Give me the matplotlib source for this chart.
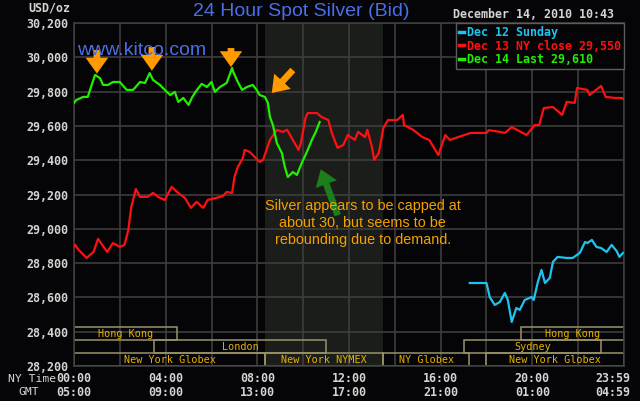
import matplotlib
matplotlib.use("Agg")
import matplotlib.pyplot as plt
from matplotlib.patches import Rectangle

# Dec 14 (green), hours NY time / USD per oz
green_hours = [0, 0.1, 0.4, 0.6, 0.8, 0.92, 1.13, 1.27, 1.48, 1.7, 2.0, 2.3, 2.58, 2.88, 3.1,
               3.3, 3.45, 3.75, 4.05, 4.2, 4.4, 4.55, 4.77, 5.0, 5.14, 5.3, 5.57, 5.8, 6.0, 6.15,
               6.37, 6.66, 6.9, 6.95, 7.15, 7.33, 7.55, 7.8, 7.97, 8.1, 8.33, 8.46, 8.55, 8.68, 8.85,
               9.07, 9.2, 9.33, 9.55, 9.73, 9.94, 10.16, 10.38, 10.55, 10.72]
green_vals = [29734, 29751, 29769, 29769, 29850, 29897, 29879, 29839, 29839, 29856, 29856, 29810, 29810, 29856, 29850,
              29908, 29868, 29839, 29798, 29780, 29798, 29740, 29763, 29722, 29763, 29798, 29845, 29827, 29856, 29798,
              29827, 29850, 29938, 29914, 29856, 29810, 29827, 29839, 29810, 29780, 29769, 29734, 29652, 29605, 29500,
              29442, 29361, 29302, 29331, 29314, 29384, 29448, 29518, 29565, 29623]

# Dec 13 (red)
red_hours = [0, 0.05, 0.2, 0.55, 0.85, 1.05, 1.45, 1.7, 2.0, 2.2, 2.37, 2.5, 2.7, 2.88, 3.2,
             3.45, 3.67, 3.96, 4.26, 4.55, 4.84, 5.1, 5.35, 5.64, 5.83, 6.2, 6.5, 6.66, 6.9, 7.0,
             7.15, 7.37, 7.45, 7.67, 7.8, 8.1, 8.25, 8.4, 8.55, 8.85, 9.1, 9.3, 9.55, 9.8, 9.9,
             10.1, 10.2, 10.6, 10.8, 11.1, 11.25, 11.5, 11.75, 11.95, 12.25, 12.4, 12.7, 12.8, 13.0, 13.1,
             13.3, 13.5, 13.7, 14.1, 14.35, 14.4, 14.8, 15.2, 15.5, 15.9, 16.2, 16.4, 17.3, 18.0, 18.1,
             18.6, 18.8, 19.1, 19.75, 20.1, 20.3, 20.5, 20.9, 21.3, 21.5, 21.85, 21.95, 22.4, 22.5, 23.0,
             23.2, 23.6, 23.9, 24.0]
red_vals = [28894, 28906, 28877, 28830, 28865, 28941, 28865, 28917, 28894, 28906, 28993, 29127, 29232, 29186, 29186,
            29209, 29186, 29168, 29244, 29209, 29180, 29122, 29157, 29122, 29168, 29180, 29191, 29215, 29209, 29302,
            29361, 29413, 29460, 29448, 29430, 29390, 29401, 29460, 29518, 29577, 29565, 29577, 29518, 29460, 29500,
            29646, 29675, 29675, 29652, 29634, 29559, 29472, 29489, 29547, 29518, 29565, 29535, 29577, 29478, 29401,
            29442, 29588, 29634, 29634, 29664, 29605, 29577, 29535, 29518, 29430, 29547, 29518, 29559, 29559, 29575,
            29565, 29559, 29593, 29547, 29605, 29605, 29704, 29710, 29664, 29740, 29734, 29821, 29810, 29780, 29833,
            29769, 29763, 29763, 29755]

# Dec 12 (cyan)
cyan_hours = [17.27, 18.0, 18.14, 18.36, 18.58, 18.8, 18.93, 19.1, 19.3, 19.45, 19.67, 19.97, 20.06, 20.24, 20.4,
              20.55, 20.76, 20.9, 21.1, 21.5, 21.76, 22.07, 22.3, 22.4, 22.6, 22.8, 23.0, 23.24, 23.46, 23.68,
              23.8, 23.95]
cyan_vals = [28684, 28684, 28602, 28556, 28573, 28626, 28585, 28457, 28538, 28527, 28585, 28602, 28585, 28690, 28760,
             28684, 28713, 28807, 28836, 28830, 28830, 28859, 28923, 28917, 28935, 28894, 28888, 28865, 28906, 28870,
             28836, 28859]

legend_labels = ["Dec 12 Sunday", "Dec 13 NY close 29,550", "Dec 14 Last 29,610"]

# trading sessions: name, start hour, end hour, row (0 = bottom)
session_names = ["Hong Kong", "Hong Kong", "London", "Sydney",
                 "New York Globex", "New York NYMEX", "NY Globex", "New York Globex"]
session_start = [0, 19.5, 3.5, 17.0, 0, 8.33, 13.5, 18.0]
session_end = [4.5, 24, 11.0, 23.0, 8.33, 13.5, 17.25, 24]
session_row = [2, 2, 1, 1, 0, 0, 0, 0]

ny_ticks = ["00:00", "04:00", "08:00", "12:00", "16:00", "20:00", "23:59"]
gmt_ticks = ["05:00", "09:00", "13:00", "17:00", "21:00", "01:00", "04:59"]
tick_hours = [0, 4, 8, 12, 16, 20, 24]

nymex_open, nymex_close = 8.33, 13.5

BG = "#050507"
GRID = "#3d3d3d"
LABEL = "#d4d4d4"
BLUE = "#4a6ee6"
ORANGE = "#ff9a00"
GOLD = "#e8b000"
MONO = "DejaVu Sans Mono"

plt.rcParams['font.family'] = [MONO]

fig = plt.figure(figsize=(6.4, 4.01), dpi=100, facecolor=BG)
ax = fig.add_axes([74 / 640, 35 / 401, 550 / 640, 343 / 401], facecolor=BG)

ax.set_xlim(0, 24)
ax.set_ylim(28200, 30200)

# shaded NYMEX session
ax.axvspan(nymex_open, nymex_close, color="#1b1d1b", zorder=0, lw=0)

ax.set_xticks(range(0, 25, 2))
ax.set_xticklabels([])
ax.set_yticks(range(28200, 30201, 200))
ax.set_yticklabels([f"{v:,}" for v in range(28200, 30201, 200)])
ax.tick_params(length=0, pad=4, labelsize=8.4, labelcolor=LABEL)
for lab in ax.get_yticklabels():
    lab.set_fontweight("bold")
ax.grid(True, color=GRID, lw=1.2, zorder=1)
ax.set_axisbelow(True)
for s in ax.spines.values():
    s.set_color(GRID)
    s.set_linewidth(1.2)

# session boxes
row_h = 75.8
for name, a, b, r in zip(session_names, session_start, session_end, session_row):
    y0 = 28200 + r * row_h
    ax.add_patch(Rectangle((a, y0), b - a, row_h, fill=False, ec="#9a9468", lw=1.1, zorder=2))
    ax.text((a + b) / 2, y0 + row_h / 2, name, color=GOLD, fontsize=7.3,
            ha="center", va="center", zorder=3)

# price lines
cyan_line, = ax.plot(cyan_hours, cyan_vals, color="#1ec3f0", lw=1.6, zorder=4)
red_line, = ax.plot(red_hours, red_vals, color="#ff1010", lw=1.6, zorder=4)
green_line, = ax.plot(green_hours, green_vals, color="#22ee00", lw=1.6, zorder=5)

leg = ax.legend([cyan_line, red_line, green_line], legend_labels, loc="upper right",
                bbox_to_anchor=(1, 1), borderaxespad=0, frameon=True, fancybox=False,
                handlelength=0.45, handletextpad=0.25, labelspacing=0.05, borderpad=0.25,
                prop={"family": MONO, "weight": "bold", "size": 8.4})
leg.get_frame().set_facecolor(BG)
leg.get_frame().set_edgecolor("#5c5c5c")
leg.get_frame().set_linewidth(1.0)
leg.get_frame().set_alpha(1)
leg.set_zorder(10)
for txt, ln in zip(leg.get_texts(), leg.get_lines()):
    txt.set_color(ln.get_color())
    ln.set_linewidth(2.5)

# annotations
arrow_style = "simple,head_length=0.95,head_width=1.35,tail_width=0.4"
for x, tail, tip in [(1.0, 30043, 29905), (3.4, 30060, 29922), (6.85, 30054, 29943)]:
    ax.annotate("", xy=(x, tip), xytext=(x, tail), zorder=6,
                arrowprops=dict(arrowstyle=arrow_style, fc=ORANGE, ec="none",
                                mutation_scale=12, shrinkA=0, shrinkB=0))
ax.annotate("", xy=(8.63, 29792), xytext=(9.55, 29926), zorder=6,
            arrowprops=dict(arrowstyle=arrow_style, fc=ORANGE, ec="none",
                            mutation_scale=12, shrinkA=0, shrinkB=0))
ax.annotate("", xy=(10.77, 29347), xytext=(11.51, 29079), zorder=6,
            arrowprops=dict(arrowstyle=arrow_style, fc="#1d7d1d", ec="none",
                            mutation_scale=12, shrinkA=0, shrinkB=0))

ax.text(12.6, 29034, "Silver appears to be capped at\nabout 30, but seems to be\nrebounding due to demand.",
        color="#f5a000", fontsize=10.4, family="Liberation Sans", ha="center", va="center",
        linespacing=1.25, zorder=6)
ax.text(0.12, 30037, "www.kitco.com", color=BLUE, fontsize=14, family="Liberation Sans",
        ha="left", va="center", zorder=6)

# header texts
fig.text(301 / 640, 1 - 11.5 / 401, "24 Hour Spot Silver (Bid)", color=BLUE, fontsize=14,
         family="Liberation Sans", ha="center", va="center")
fig.text(453 / 640, 1 - 15 / 401, "December 14, 2010 10:43", color=LABEL, fontsize=8.4,
         weight="bold", ha="left", va="center")
fig.text(49 / 640, 1 - 8 / 401, "USD/oz", color=LABEL, fontsize=8.4, weight="bold",
         ha="center", va="center")

# two rows of time labels below the axes
xt = ax.get_xaxis_transform()
for i, (h, ny, gmt) in enumerate(zip(tick_hours, ny_ticks, gmt_ticks)):
    hh = h - 0.5 if i == len(tick_hours) - 1 else h
    ax.text(hh, -(379 - 366) / 343, ny, transform=xt, color=LABEL,
            fontsize=8.4, weight="bold", ha="center", va="center", clip_on=False)
    ax.text(hh, -(392 - 366) / 343, gmt, transform=xt, color=LABEL,
            fontsize=8.4, weight="bold", ha="center", va="center", clip_on=False)
fig.text(32 / 640, 1 - 379 / 401, "NY Time", color=LABEL, fontsize=8.2, ha="center", va="center")
fig.text(29 / 640, 1 - 392 / 401, "GMT", color=LABEL, fontsize=8.2, ha="center", va="center")

fig.savefig("out.png", dpi=100, facecolor=BG)
